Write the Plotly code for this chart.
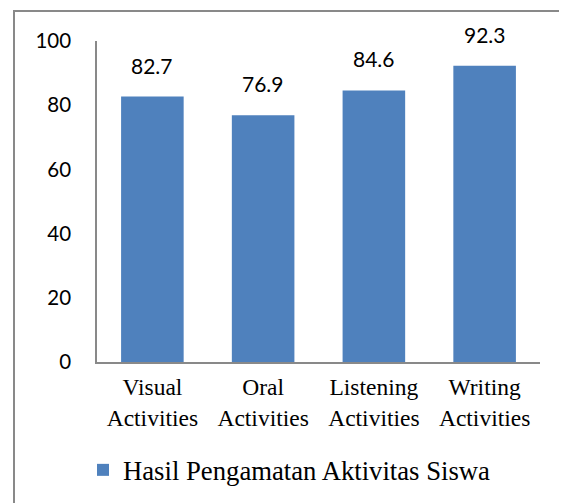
import plotly.graph_objects as go

categories = ["Visual<br>Activities", "Oral<br>Activities", "Listening<br>Activities", "Writing<br>Activities"]
values = [82.7, 76.9, 84.6, 92.3]
series_name = "Hasil Pengamatan Aktivitas Siswa"
y_ticks = [0, 20, 40, 60, 80, 100]

BAR = "#4F81BD"
AX = "#898989"
OFF = 8  # page body margin offset
W, H = 567, 503
L, T = 97 - OFF, 41 - OFF
R = W - (540 - OFF)
B = H - (362 - OFF)
pw, ph = W - L - R, H - T - B

def px_x(x):
    return (x - OFF - L) / pw

def px_y(y):
    return (H - B - (y - OFF)) / ph

fig = go.Figure()
fig.add_trace(go.Bar(
    x=categories, y=values, name=series_name,
    marker=dict(color=BAR, line=dict(width=0)),
    width=0.565, showlegend=True,
))

for c, v in zip(categories, values):
    fig.add_annotation(x=c, y=v, text=f"{v:.1f}", showarrow=False,
                       yanchor="bottom", yshift=17,
                       font=dict(family="Lato", size=21, color="#000"))

# outer frame (cropped on right and bottom)
fig.add_shape(type="rect", xref="paper", yref="paper",
              x0=px_x(14), x1=1.3, y0=-0.6, y1=px_y(11),
              line=dict(color=AX, width=2), layer="below")

fig.update_layout(
    width=W, height=H,
    margin=dict(l=L, r=R, t=T, b=B, pad=0),
    paper_bgcolor="white", plot_bgcolor="white",
    showlegend=True,
    legend=dict(orientation="h", x=px_x(83), xanchor="left",
                y=px_y(470), yanchor="middle",
                font=dict(family="Liberation Serif", size=26.7, color="#000"),
                itemwidth=30, bgcolor="rgba(0,0,0,0)"),
    xaxis=dict(showline=True, linecolor=AX, linewidth=1.5, ticks="",
               tickfont=dict(family="Liberation Serif", size=23.5, color="#000"),
               ticklabelstandoff=3,
               showgrid=False, zeroline=False, fixedrange=True),
    yaxis=dict(range=[0, 100], tickvals=y_ticks, showline=True, linecolor=AX,
               linewidth=1.5, ticks="", showgrid=False, zeroline=False,
               tickfont=dict(family="Lato", size=20.5, color="#000"),
               ticklabelstandoff=20, fixedrange=True),
)

fig.write_html("out.html")
